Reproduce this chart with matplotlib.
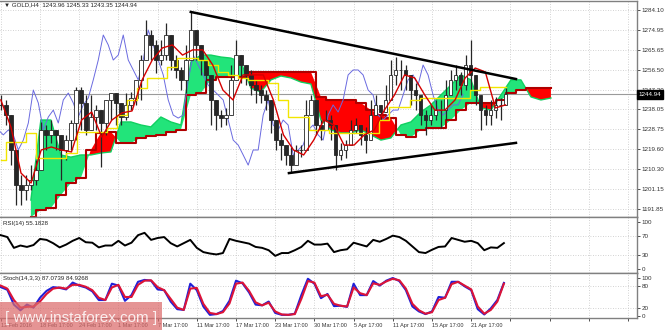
import numpy as np
import matplotlib
matplotlib.use("Agg")
import matplotlib.pyplot as plt
from matplotlib.patches import Rectangle
import matplotlib.transforms as mtransforms

plt.rcParams['font.family'] = ['Liberation Sans', 'DejaVu Sans']

# ---- price (H4 candles, sampled) ----
close = [1240.1, 1235.4, 1219.2, 1203.0, 1200.7, 1203.0, 1205.3, 1209.9, 1228.5, 1226.2,
         1228.5, 1226.2, 1219.2, 1223.8, 1231.7, 1247.0, 1241.0, 1228.5, 1234.5, 1237.7,
         1231.7, 1242.4, 1245.6, 1241.0, 1234.5, 1240.1, 1243.3, 1251.7, 1260.9, 1272.5,
         1267.9, 1260.9, 1263.2, 1272.5, 1260.9, 1256.3, 1251.7, 1260.9, 1274.8, 1267.9,
         1260.9, 1254.0, 1242.4, 1235.4, 1234.0, 1235.4, 1251.7, 1263.2, 1258.6, 1254.0,
         1249.3, 1247.0, 1244.7, 1242.4, 1233.1, 1223.8, 1221.5, 1216.9, 1212.2, 1219.2,
         1219.2, 1235.4, 1242.4, 1230.8, 1228.5, 1233.1, 1230.8, 1216.9, 1219.2, 1221.5,
         1228.5, 1230.8, 1226.2, 1223.8, 1235.4, 1240.1, 1236.8, 1242.4, 1254.0, 1256.3,
         1256.3, 1254.0, 1247.0, 1244.7, 1235.4, 1233.1, 1235.4, 1237.7, 1237.7, 1244.7,
         1251.7, 1254.0, 1249.3, 1258.6, 1254.0, 1244.7, 1237.7, 1235.4, 1237.7, 1240.1,
         1240.1, 1244.94]
high = [1244.7, 1242.4, 1228.5, 1212.2, 1207.6, 1207.6, 1212.2, 1214.6, 1232.2, 1230.8,
        1233.1, 1228.5, 1217.8, 1226.2, 1233.1, 1248.4, 1248.4, 1244.7, 1244.7, 1240.1,
        1230.8, 1235.4, 1245.6, 1243.3, 1240.1, 1245.6, 1246.1, 1249.3, 1263.2, 1279.5,
        1274.8, 1270.2, 1270.2, 1278.1, 1265.6, 1263.2, 1257.7, 1267.9, 1283.2, 1273.4,
        1265.6, 1260.9, 1249.3, 1242.4, 1237.7, 1238.7, 1258.6, 1270.2, 1263.2, 1258.6,
        1256.3, 1251.7, 1249.3, 1247.0, 1242.4, 1228.5, 1227.1, 1221.5, 1220.6, 1221.5,
        1221.5, 1242.4, 1244.7, 1237.7, 1233.1, 1237.7, 1235.4, 1225.2, 1222.5, 1223.8,
        1233.1, 1234.0, 1230.8, 1229.9, 1242.4, 1244.7, 1240.1, 1249.3, 1260.9, 1262.3,
        1260.9, 1258.6, 1251.7, 1250.3, 1242.4, 1237.7, 1240.1, 1242.4, 1242.4, 1251.7,
        1256.3, 1258.6, 1255.4, 1263.2, 1270.2, 1251.7, 1244.7, 1240.1, 1242.4, 1243.8,
        1243.3, 1247.9]
low = [1237.7, 1230.8, 1212.2, 1193.7, 1193.7, 1196.0, 1200.7, 1203.0, 1219.2, 1219.2,
       1222.5, 1219.2, 1205.3, 1214.6, 1219.2, 1223.8, 1228.5, 1226.2, 1228.5, 1228.5,
       1211.3, 1226.2, 1233.1, 1230.8, 1230.8, 1233.1, 1237.7, 1240.1, 1242.4, 1260.9,
       1260.9, 1254.9, 1258.6, 1260.9, 1256.3, 1252.6, 1247.0, 1245.6, 1265.6, 1260.9,
       1254.0, 1248.4, 1230.8, 1228.5, 1229.9, 1230.8, 1242.4, 1254.0, 1250.3, 1249.3,
       1244.7, 1241.0, 1241.0, 1237.7, 1227.1, 1219.2, 1214.6, 1212.2, 1209.0, 1215.9,
       1215.9, 1219.2, 1235.4, 1226.2, 1223.8, 1228.5, 1223.8, 1209.9, 1214.6, 1215.5,
       1223.8, 1227.1, 1221.5, 1217.8, 1230.8, 1235.4, 1233.1, 1237.7, 1247.0, 1249.3,
       1247.0, 1247.0, 1240.1, 1237.7, 1230.8, 1226.2, 1230.8, 1233.1, 1229.4, 1233.1,
       1244.7, 1247.0, 1244.7, 1247.0, 1247.0, 1240.1, 1228.5, 1230.8, 1230.8, 1234.0,
       1233.1, 1240.1]

# ---- ichimoku lines ----
tenkan = [1242.4, 1229.9, 1208.5, 1203.9, 1219.2, 1220.6, 1219.2, 1218.3, 1233.1, 1236.8,
          1225.2, 1233.1, 1236.4, 1237.3, 1251.7, 1260.9, 1266.5, 1267.9, 1263.2, 1265.6,
          1265.6, 1258.6, 1247.0, 1242.4, 1254.0, 1254.0, 1254.0, 1242.4, 1226.2, 1219.2,
          1216.9, 1223.8, 1233.1, 1230.8, 1221.5, 1221.5, 1226.2, 1228.5, 1237.7, 1244.7,
          1254.0, 1252.6, 1244.7, 1237.7, 1237.7, 1242.4, 1252.6, 1257.2, 1255.4, 1238.7,
          1240.1]
kijun = [1214.6, 1222.9, 1222.9, 1227.1, 1215.5, 1215.5, 1215.5, 1217.8, 1227.6, 1227.6,
         1227.6, 1229.4, 1235.4, 1242.4, 1247.9, 1252.6, 1252.6, 1257.7, 1261.8, 1261.8,
         1260.9, 1258.6, 1255.4, 1254.0, 1252.6, 1251.7, 1251.7, 1250.3, 1242.4, 1234.5,
         1234.5, 1228.5, 1228.5, 1227.1, 1227.1, 1227.1, 1227.1, 1227.1, 1233.1, 1239.1,
         1239.1, 1242.4, 1243.3, 1243.3, 1243.3, 1243.3, 1243.3, 1247.0, 1248.4, 1248.4,
         1248.4]
span_a = [1196.0, 1233.1, 1233.1, 1216.9, 1215.9, 1216.9, 1216.9, 1217.8, 1218.3, 1232.2,
          1232.2, 1230.8, 1229.9, 1234.5, 1232.2, 1230.8, 1260.0, 1263.2, 1263.2, 1262.3,
          1261.8, 1260.0, 1247.9, 1246.1, 1251.7, 1253.5, 1252.6, 1250.7, 1249.8, 1233.1,
          1228.5, 1227.1, 1227.1, 1228.5, 1226.2, 1223.8, 1224.8, 1230.8, 1232.2, 1236.8,
          1240.1, 1244.7, 1249.3, 1254.0, 1251.7, 1238.7, 1237.7, 1244.7, 1251.7, 1251.7,
          1243.8, 1242.4, 1243.3]
span_b = [1188.1, 1191.4, 1192.3, 1198.3, 1203.9, 1206.2, 1219.2, 1227.1, 1227.6, 1222.5,
          1222.5, 1224.8, 1225.7, 1226.2, 1227.6, 1228.5, 1244.7, 1245.6, 1251.7, 1253.0,
          1253.0, 1253.0, 1255.4, 1255.4, 1255.4, 1255.4, 1255.4, 1255.4, 1255.4, 1243.8,
          1242.4, 1242.4, 1242.4, 1241.0, 1237.7, 1235.4, 1234.0, 1226.2, 1225.2, 1228.5,
          1229.4, 1229.4, 1233.1, 1237.7, 1241.0, 1241.0, 1241.0, 1242.4, 1245.6, 1247.0,
          1247.9, 1247.9, 1247.9]

# ---- oscillators ----
rsi = [72, 68, 45, 50, 47, 51, 64, 62, 55, 46,
       52, 60, 66, 57, 56, 46, 50, 50, 60, 50,
       56, 72, 77, 62, 66, 68, 55, 48, 55, 62,
       45, 36, 33, 31, 34, 64, 60, 57, 54, 47,
       45, 40, 28, 34, 34, 40, 47, 60, 52, 52,
       54, 36, 40, 42, 56, 52, 48, 62, 58, 64,
       71, 68, 60, 48, 36, 34, 41, 47, 48, 66,
       62, 58, 60, 55, 40, 46, 45, 55.18]
stoch_k = [76, 69, 30, 15, 30, 22, 48, 66, 76, 74,
           70, 88, 80, 75, 65, 42, 42, 85, 80, 40,
           55, 90, 95, 93, 70, 68, 38, 18, 16, 85,
           68, 25, 3, 5, 13, 40, 93, 86, 62, 30,
           28, 38, 8, 3, 3, 6, 55, 98, 85, 47,
           58, 26, 27, 24, 85, 55, 55, 92, 80, 93,
           100, 92, 68, 25, 12, 5, 12, 50, 48, 90,
           90, 78, 68, 18, 4, 20, 42, 87.07]
stoch_d = [80, 72, 42, 22, 24, 25, 38, 58, 72, 75,
           72, 82, 82, 77, 68, 48, 42, 75, 82, 50,
           50, 82, 93, 94, 76, 68, 45, 22, 16, 72,
           74, 32, 8, 5, 10, 33, 85, 88, 66, 36,
           28, 35, 12, 4, 3, 5, 45, 92, 88, 52,
           56, 32, 27, 25, 75, 60, 55, 86, 82, 91,
           98, 94, 72, 32, 15, 6, 10, 42, 48, 84,
           90, 80, 70, 25, 6, 16, 38, 84.93]

price_ticks = [1284.10, 1274.95, 1265.65, 1256.50, 1247.20, 1238.05,
               1228.75, 1219.60, 1210.30, 1201.15, 1191.85]
date_labels = ["12 Feb 2016", "18 Feb 17:00", "24 Feb 17:00", "1 Mar 17:00",
               "7 Mar 17:00", "11 Mar 17:00", "17 Mar 17:00", "23 Mar 17:00",
               "30 Mar 17:00", "5 Apr 17:00", "11 Apr 17:00", "15 Apr 17:00",
               "21 Apr 17:00"]
res_bars, res_prices = [116.3, 315.4], [1283.2, 1252.1]
sup_bars, sup_prices = [176.4, 315.4], [1208.5, 1222.5]
last_price = 1244.94
title = "\u25bc GOLD,H4  1243.96 1245.33 1243.35 1244.94"

# bar positions (H4 bars, 24 bars between date labels)
last_bar = 309
xb = np.linspace(0, last_bar, len(close))
xl = np.linspace(0, last_bar, len(tenkan))
xc = np.linspace(18.4, last_bar + 27.8, len(span_a))
xo = np.linspace(0, 308, len(rsi))
chikou_shift = 26

W, H = 665, 330
fig = plt.figure(figsize=(W / 100, H / 100), dpi=100)
fig.patch.set_facecolor("white")
left, right = 0.0, 637 / W


def px_axes(top, bottom):
    return fig.add_axes([left, 1 - bottom / H, right - left, (bottom - top) / H])


ax = px_axes(1, 216.7)
ax_rsi = px_axes(216.7, 273.3)
ax_st = px_axes(273.3, 318)

grid_kw = dict(color="#c4c4c4", linestyle=(0, (1, 2)), linewidth=0.6)
xticks = np.arange(0, 390, 24)
for a in (ax, ax_rsi, ax_st):
    a.set_xlim(-0.5, 389.5)
    a.set_xticks(xticks)
    a.grid(True, **grid_kw)
    a.set_axisbelow(True)
    a.yaxis.tick_right()
    a.tick_params(axis="y", direction="out", length=2, pad=1.2, labelsize=4.5,
                  colors="#333333", width=0.6)
    a.tick_params(axis="x", direction="out", length=2, pad=1.5, labelsize=4.0,
                  colors="#333333", width=0.6)
    for s in a.spines.values():
        s.set_color("#808080")
        s.set_linewidth(1.0)
    a.spines["left"].set_visible(False)

# ---- main panel ----
ax.set_ylim(1188.28, 1288.27)
ax.set_yticks(price_ticks)
ax.set_yticklabels([f"{v:.2f}" for v in price_ticks])
ax.tick_params(axis="x", labelbottom=False)

sa = np.array(span_a)
sb = np.array(span_b)
ax.fill_between(xc, sa, sb, where=sa >= sb, interpolate=True,
                color="#22e47a", lw=0, zorder=1)
ax.fill_between(xc, sa, sb, where=sa < sb, interpolate=True,
                color="#ff0000", lw=0, zorder=1)
ax.plot(xc, sa, color="#10d060", lw=1.0, zorder=1.5)
ax.plot(xc, sb, color="#b00000", lw=1.5, zorder=1.5, drawstyle="steps-mid")

ax.axhline(last_price, color="#9a9a9a", lw=0.8, zorder=0.8)

ax.plot(xb - chikou_shift, close, color="#6a6ae0", lw=0.7, zorder=2)

op = np.array([close[0]] + close[:-1])
cl = np.array(close)
hi = np.maximum.reduce([np.array(high), op, cl])
lo = np.minimum.reduce([np.array(low), op, cl])
ax.vlines(xb, lo, hi, color="#262626", lw=0.9, zorder=3)
up = cl >= op
ax.bar(xb[up], (cl - op)[up], bottom=op[up], width=2.3, color="white",
       edgecolor="#262626", linewidth=0.6, zorder=3.2)
ax.bar(xb[~up], (op - cl)[~up], bottom=cl[~up], width=2.3, color="#262626",
       edgecolor="#262626", linewidth=0.6, zorder=3.2)

ax.plot(xl, kijun, color="#f2e600", lw=1.0, zorder=4, drawstyle="steps-mid")
ax.plot(xl, tenkan, color="#d40000", lw=1.0, zorder=5)

ax.plot(res_bars, res_prices, color="black", lw=1.8, zorder=6)
ax.plot(sup_bars, sup_prices, color="black", lw=1.8, zorder=6)

ax.text(0.006, 0.992, title, transform=ax.transAxes, va="top", ha="left",
        fontsize=4.4, color="#222222", zorder=7,
        family=["Liberation Sans", "DejaVu Sans"])
tr = mtransforms.blended_transform_factory(ax.transAxes, ax.transData)
ax.text(1.003, last_price, f"{last_price:.2f}", transform=tr, va="center",
        ha="left", fontsize=4.5, color="white", zorder=8, clip_on=False,
        bbox=dict(boxstyle="square,pad=0.3", fc="black", ec="black"))

# ---- RSI ----
ax_rsi.set_ylim(-9.1, 111.3)
ax_rsi.set_yticks([100, 70, 30, 0])
ax_rsi.set_yticklabels(["100", "70", "30", "0"])
ax_rsi.grid(False)
for v in (70, 30):
    ax_rsi.axhline(v, **grid_kw, zorder=0)
for xv in xticks:
    ax_rsi.axvline(xv, **grid_kw, zorder=0)
ax_rsi.tick_params(axis="x", labelbottom=False)
ax_rsi.plot(xo, rsi, color="black", lw=1.4)
ax_rsi.text(0.005, 0.93, "RSI(14) 55.1828", transform=ax_rsi.transAxes,
            va="top", ha="left", fontsize=4.4, color="#222222")

# ---- Stochastic ----
ax_st.set_ylim(-5.3, 112.4)
ax_st.set_yticks([100, 80, 20, 0])
ax_st.set_yticklabels(["100", "80", "20", "0"])
ax_st.grid(False)
for v in (80, 20):
    ax_st.axhline(v, **grid_kw, zorder=0)
for xv in xticks:
    ax_st.axvline(xv, **grid_kw, zorder=0)
ax_st.plot(xo, stoch_k, color="#2020d8", lw=1.5)
ax_st.plot(xo, stoch_d, color="#dc1438", lw=1.5)
ax_st.text(0.005, 0.95, "Stoch(14,3,3) 87.0739 84.9268", transform=ax_st.transAxes,
           va="top", ha="left", fontsize=4.4, color="#222222")
ax_st.set_xticklabels(date_labels + [""] * (len(xticks) - len(date_labels)), ha="left")

# watermark
fig.patches.append(Rectangle((0, 0), 162 / W, 28 / H, transform=fig.transFigure,
                             facecolor=(0.86, 0.42, 0.42), alpha=0.72,
                             edgecolor="none", zorder=10))
fig.text(81 / W, 12 / H, "[ www.instaforex.com ]", ha="center", va="center",
         fontsize=11, color="white", alpha=0.85, zorder=11)

fig.savefig("out.png", dpi=100, facecolor="white")
